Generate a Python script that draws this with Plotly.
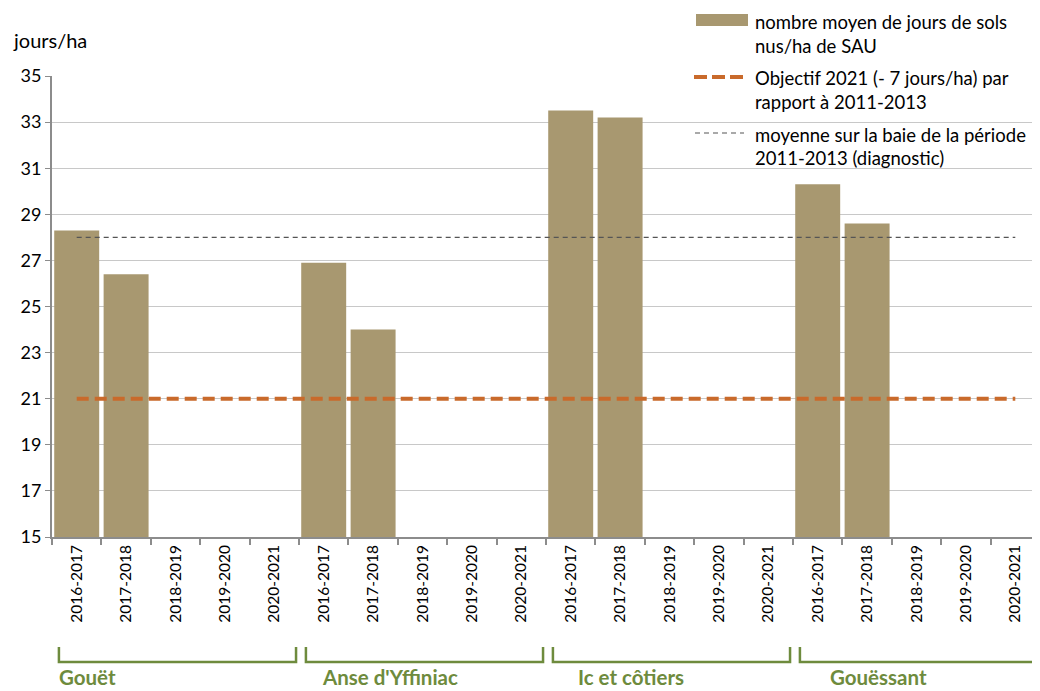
import plotly.graph_objects as go

# Données
bassins = ["Gouët", "Anse d'Yffiniac", "Ic et côtiers", "Gouëssant"]
campagnes = ["2016-2017", "2017-2018", "2018-2019", "2019-2020", "2020-2021"]
jours_gouet = [28.3, 26.4, None, None, None]
jours_anse = [26.9, 24.0, None, None, None]
jours_ic = [33.5, 33.2, None, None, None]
jours_gouessant = [30.3, 28.6, None, None, None]
objectif_2021 = 21
moyenne_diagnostic = 28

y_ticks = [15, 17, 19, 21, 23, 25, 27, 29, 31, 33, 35]

# Couleurs
c_barre = "#A89870"
c_objectif = "#C96A2B"
c_moyenne = "#555555"
c_vert = "#6E8B3D"
police = "Lato"

valeurs = jours_gouet + jours_anse + jours_ic + jours_gouessant
etiquettes = campagnes * len(bassins)
positions = list(range(len(valeurs)))

fig = go.Figure()

fig.add_trace(go.Bar(
    x=positions, y=valeurs, marker=dict(color=c_barre, line=dict(width=0)),
    width=0.91, showlegend=False,
))
fig.add_trace(go.Scatter(
    x=positions, y=[moyenne_diagnostic] * len(positions), mode="lines",
    line=dict(color=c_moyenne, width=1.2, dash="5px,4px"), showlegend=False,
))
fig.add_trace(go.Scatter(
    x=positions, y=[objectif_2021] * len(positions), mode="lines",
    line=dict(color=c_objectif, width=4, dash="12px,6px"), showlegend=False,
))

# La page ajoute 8 px de marge : on travaille en pixels de la page
O = 8
L, T, B = 52, 76, 154
W, H = 1040 - O, 691 - O
pw = 1040 - L
ph = 691 - T - B


def px_x(x):
    return (x - L) / pw


def px_y(y):
    return (691 - B - y) / ph


shapes = []
annotations = []

# Accolades des bassins
for i, nom in enumerate(bassins):
    x0 = 5 * i - 0.36
    x1 = 5 * i + 4.44
    ya, yb = px_y(647), px_y(662)
    shapes.append(dict(
        type="path", xref="x", yref="paper",
        path=f"M {x0},{ya} L {x0},{yb} L {x1},{yb} L {x1},{ya}",
        line=dict(color=c_vert, width=2.5),
    ))
decal = [0.12, 0.44, 0.62, 0.73]
for i, nom in enumerate(bassins):
    annotations.append(dict(
        x=5 * i - 0.5 + decal[i], y=px_y(690), xref="x", yref="paper",
        text=f"<b>{nom}</b>", showarrow=False, xanchor="left", yanchor="bottom",
        borderpad=0, font=dict(family=police, size=20.5, color=c_vert),
    ))

# Titre de l'axe
annotations.append(dict(
    x=px_x(11), y=px_y(40), xref="paper", yref="paper", text="jours/ha",
    showarrow=False, xanchor="left", yanchor="middle",
    font=dict(family=police, size=20, color="#000"),
))

# Légende dessinée
shapes.append(dict(type="rect", xref="paper", yref="paper",
                   x0=px_x(696), x1=px_x(748), y0=px_y(26), y1=px_y(14),
                   fillcolor=c_barre, line=dict(width=0)))
shapes.append(dict(type="line", xref="paper", yref="paper",
                   x0=px_x(694), x1=px_x(744), y0=px_y(77), y1=px_y(77),
                   line=dict(color=c_objectif, width=4, dash="13px,5px")))
shapes.append(dict(type="line", xref="paper", yref="paper",
                   x0=px_x(695), x1=px_x(744), y0=px_y(133), y1=px_y(133),
                   line=dict(color=c_moyenne, width=1.2, dash="5px,4px")))

lignes_legende = [
    ("nombre moyen de jours de sols", 22),
    ("nus/ha de SAU", 46),
    ("Objectif 2021 (- 7 jours/ha) par", 78),
    ("rapport à 2011-2013", 102),
    ("moyenne sur la baie de la période", 135),
    ("2011-2013 (diagnostic)", 158),
]
for texte, yp in lignes_legende:
    annotations.append(dict(
        x=px_x(753), y=px_y(yp), xref="paper", yref="paper", text=texte,
        showarrow=False, xanchor="left", yanchor="middle",
        font=dict(family=police, size=18.5, color="#000"),
    ))

fig.update_layout(
    width=W, height=H,
    margin=dict(l=L - O, r=0, t=T - O, b=B),
    plot_bgcolor="white", paper_bgcolor="white",
    font=dict(family=police, color="#000"),
    bargap=0.09,
    shapes=shapes,
    annotations=annotations,
)

fig.update_xaxes(
    range=[-0.5, len(valeurs) - 0.5],
    tickmode="array", tickvals=positions, ticktext=etiquettes,
    tickangle=-90, tickfont=dict(family=police, size=15.5, color="#000"),
    ticks="", showgrid=False, zeroline=False,
    showline=True, linecolor="#8C8C8C", linewidth=1.5,
    minor=dict(tickmode="array", tickvals=[p - 0.5 for p in positions] + [len(valeurs) - 0.5],
               ticks="outside", ticklen=6, tickcolor="#8C8C8C", tickwidth=1.5, showgrid=False),
)
fig.update_yaxes(
    range=[15, 35], tickmode="array", tickvals=y_ticks,
    tickfont=dict(family=police, size=18, color="#000"),
    ticks="outside", ticklen=5, tickcolor="#8C8C8C",
    showgrid=True, gridcolor="#C8C8C8", gridwidth=1.3, zeroline=False,
    showline=True, linecolor="#8C8C8C", linewidth=2,
)

fig.write_html("out.html")
